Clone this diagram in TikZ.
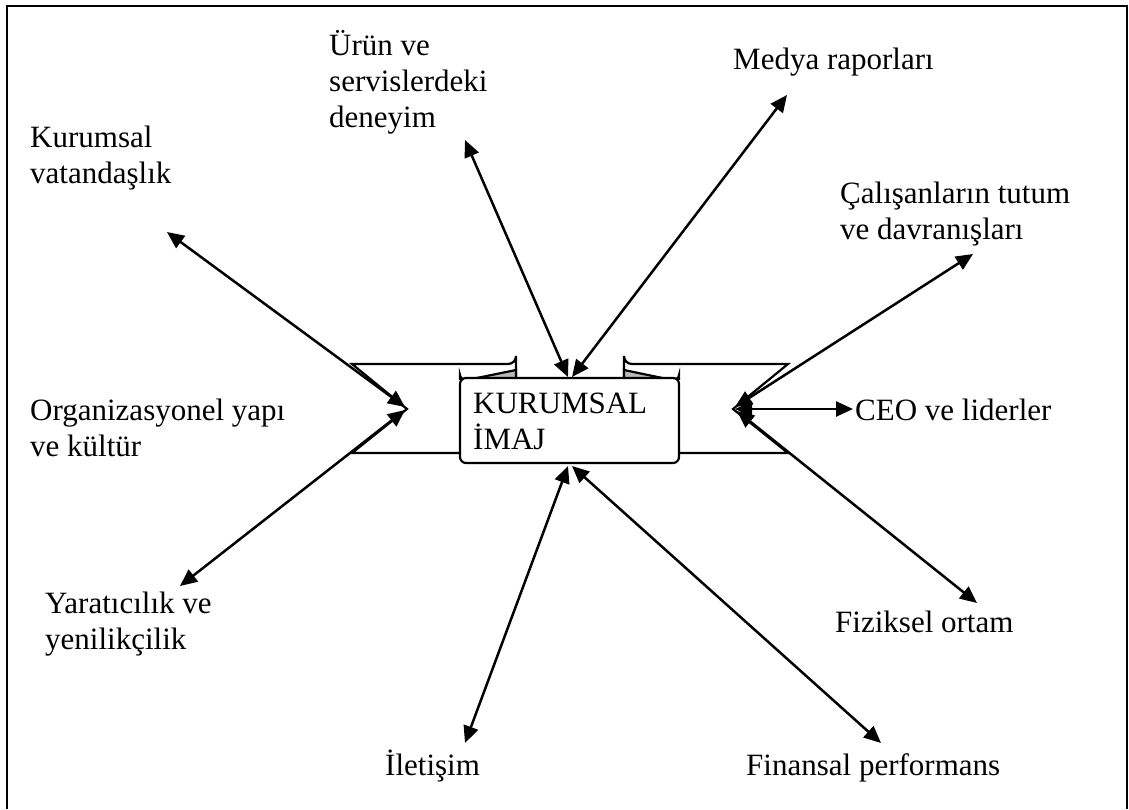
\documentclass[tikz,border=0pt]{standalone}
\usepackage{fontspec}
\setmainfont{Liberation Serif}
\usetikzlibrary{arrows.meta}
\newcommand\lbltab[1]{\begin{tabular}[t]{@{}l@{}}#1\end{tabular}}
\begin{document}
\begin{tikzpicture}[x=1pt,y=-1pt,
  lbl/.style={font=\fontsize{31}{36}\selectfont, inner sep=0pt, anchor=base west},
  link/.style={line width=2.5pt, {Triangle[length=17pt,width=15pt]}-{Triangle[length=17pt,width=15pt]}},
  band/.style={line width=2.2pt, fill=white, line join=miter},
  curl/.style={line width=2.2pt, fill=gray!55}]
\useasboundingbox (0,0) rectangle (1129,809);
% outer frame (open at the bottom)
\draw[line width=2.4pt] (7,809) -- (7,6) -- (1127,6) -- (1127,809);

% ribbon: back bands with notched ends
\draw[band] (352,364) -- (508,364) arc[start angle=90, end angle=0, radius=8] -- (516,453) -- (352,453) -- (407,409) -- cycle;
\draw[band] (788,364) -- (632,364) arc[start angle=90, end angle=180, radius=8] -- (624,453) -- (788,453) -- (733,409) -- cycle;
% rolled ends behind the front panel
\draw[curl] (460,379) -- (460,375) arc[start angle=180, end angle=90, x radius=7, y radius=5] -- (516,370) -- (516,379) -- cycle;
\draw[curl] (679,379) -- (679,375) arc[start angle=0, end angle=90, x radius=7, y radius=5] -- (624,370) -- (624,379) -- cycle;
% front panel
\draw[band, rounded corners=6pt] (460,378) -- (679,378) -- (679,463) -- (460,463) -- cycle;
\node[lbl] (center) at (473,413) {\lbltab{KURUMSAL\\İMAJ}};

% labels
\node[lbl] (kv)   at (30,147)  {\lbltab{Kurumsal\\vatandaşlık}};
\node[lbl] (urun) at (329,55)  {\lbltab{Ürün ve\\servislerdeki\\deneyim}};
\node[lbl] (med)  at (733,69)  {Medya raporları};
\node[lbl] (cal)  at (840,203) {\lbltab{Çalışanların tutum\\ve davranışları}};
\node[lbl] (ceo)  at (855,420) {CEO ve liderler};
\node[lbl] (org)  at (30,420)  {\lbltab{Organizasyonel yapı\\ve kültür}};
\node[lbl] (yar)  at (45,613)  {\lbltab{Yaratıcılık ve\\yenilikçilik}};
\node[lbl] (fiz)  at (835,632) {Fiziksel ortam};
\node[lbl] (ilet) at (385,775) {İletişim};
\node[lbl] (fin)  at (746,775) {Finansal performans};

% arrow ends
\coordinate (lnotchA) at (405,407);
\coordinate (lnotchB) at (405,410);
\coordinate (rnotchA) at (735,407);
\coordinate (rnotchB) at (735,409);
\coordinate (rnotchC) at (737,411);
\coordinate (topL) at (568,377);
\coordinate (topR) at (572,377);
\coordinate (botL) at (568,466);
\coordinate (botR) at (572,466);
\coordinate (kvEnd)   at (167,232);
\coordinate (urunEnd) at (465,140);
\coordinate (medEnd)  at (787,95);
\coordinate (calEnd)  at (973,254);
\coordinate (ceoEnd)  at (853,409);
\coordinate (fizEnd)  at (977,603);
\coordinate (finEnd)  at (881,743);
\coordinate (iletEnd) at (465,743);
\coordinate (yarEnd)  at (180,586);

% connectors
\draw[link] (kvEnd) -- (lnotchA);
\draw[link] (yarEnd) -- (lnotchB);
\draw[link] (urunEnd) -- (topL);
\draw[link] (medEnd) -- (topR);
\draw[link] (calEnd) -- (rnotchA);
\draw[link] (ceoEnd) -- (rnotchB);
\draw[link] (fizEnd) -- (rnotchC);
\draw[link] (iletEnd) -- (botL);
\draw[link] (finEnd) -- (botR);
\end{tikzpicture}
\end{document}
